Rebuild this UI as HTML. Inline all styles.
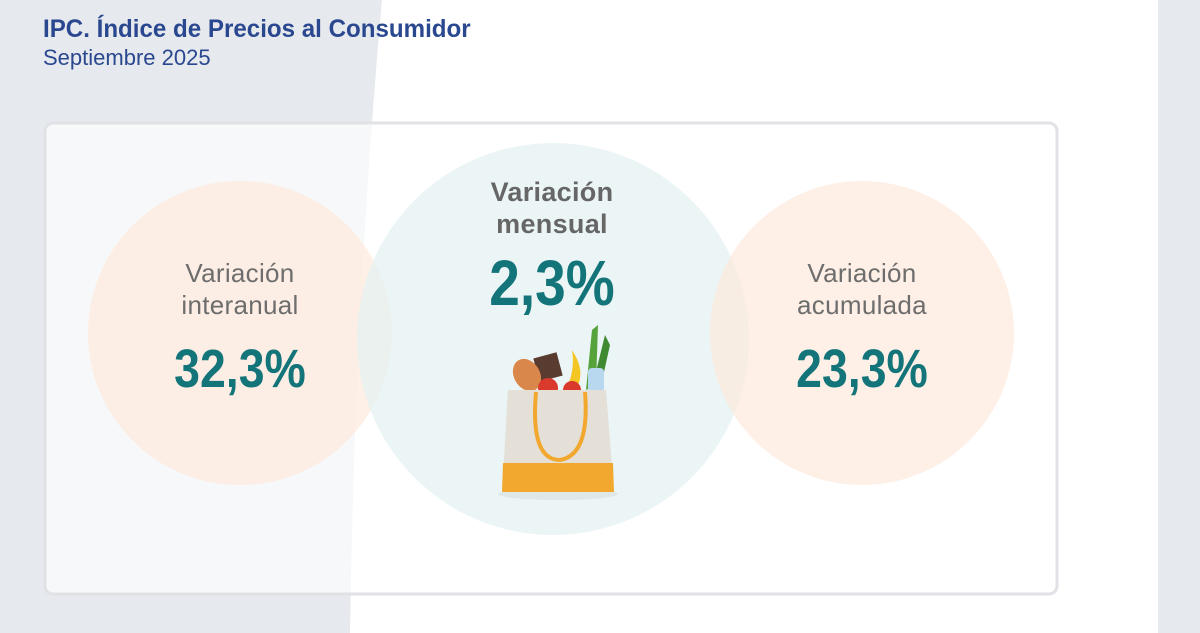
<!DOCTYPE html>
<html><head><meta charset="utf-8"><style>
html,body{margin:0;padding:0}
body{width:1200px;height:633px;position:relative;overflow:hidden;background:#fff;font-family:"Liberation Sans",sans-serif}
.t{position:absolute;white-space:nowrap}
.lab{color:#6d6d6d;font-size:25px;text-align:center;line-height:32px;letter-spacing:0.3px}
.num{color:#137479;font-size:54px;font-weight:bold;text-align:center;transform:scaleX(0.86)}
</style></head><body>
<svg width="1200" height="633" style="position:absolute;left:0;top:0">
<path d="M0 0 H382 Q355 300 350 633 H0 Z" fill="#e6e9ed"/>
<rect x="1158" y="0" width="42" height="633" fill="#e6e9ed"/>
<rect x="45" y="123" width="1012" height="471" rx="8" fill="#ffffff" fill-opacity="0.66" stroke="#e0e2e5" stroke-width="3"/>
<circle cx="240" cy="333" r="152" fill="#fdeadb" fill-opacity="0.7"/>
<circle cx="553" cy="339" r="196" fill="#e2f1f2" fill-opacity="0.7"/>
<circle cx="862" cy="333" r="152" fill="#fdeadb" fill-opacity="0.7"/>
<ellipse cx="558" cy="494" rx="60" ry="6" fill="#dfe7e8"/>
<rect x="536" y="355" width="24" height="24" fill="#5a3b30" transform="rotate(-15 548 367)"/>
<ellipse cx="527" cy="375" rx="13" ry="17" fill="#d9874a" transform="rotate(-30 527 375)"/>
<path d="M572 350 Q585 370 578 385 L568 385 Q575 368 572 350Z" fill="#f3c623"/>
<path d="M586 390 L592 330 L598 325 L596 385 Z" fill="#56a33c"/>
<path d="M592 388 L605 335 L610 345 L600 390 Z" fill="#3f8a30"/>
<rect x="588" y="368" width="16" height="24" rx="4" fill="#b8d8ef"/>
<circle cx="548" cy="388" r="10" fill="#d93a2b"/>
<circle cx="572" cy="390" r="9" fill="#d93a2b"/>
<path d="M508 390 L606 390 L614 492 L502 492 Z" fill="#e4e0d8"/>
<path d="M503 463 L613 463 L614 492 L502 492 Z" fill="#f2a72e"/>
<path d="M536 392 Q530 460 560 460 Q590 455 585 392" fill="none" stroke="#f2a72e" stroke-width="4"/>
</svg>
<div class="t" style="left:43px;top:15px;color:#2a4890;font-size:25px;font-weight:bold;transform:scaleX(0.965);transform-origin:0 0">IPC. Índice de Precios al Consumidor</div>
<div class="t" style="left:43px;top:45px;color:#2a4890;font-size:22px">Septiembre 2025</div>
<div class="t lab" style="left:140px;width:200px;top:257px;font-size:26px">Variación<br>interanual</div>
<div class="t num" style="left:140px;width:200px;top:338px">32,3%</div>
<div class="t lab" style="left:452px;width:200px;top:176px;color:#666;font-weight:bold;font-size:27px">Variación<br>mensual</div>
<div class="t num" style="left:452px;width:200px;top:246px;font-size:64px">2,3%</div>
<div class="t lab" style="left:762px;width:200px;top:257px;font-size:26px">Variación<br>acumulada</div>
<div class="t num" style="left:762px;width:200px;top:338px">23,3%</div>
</body></html>
